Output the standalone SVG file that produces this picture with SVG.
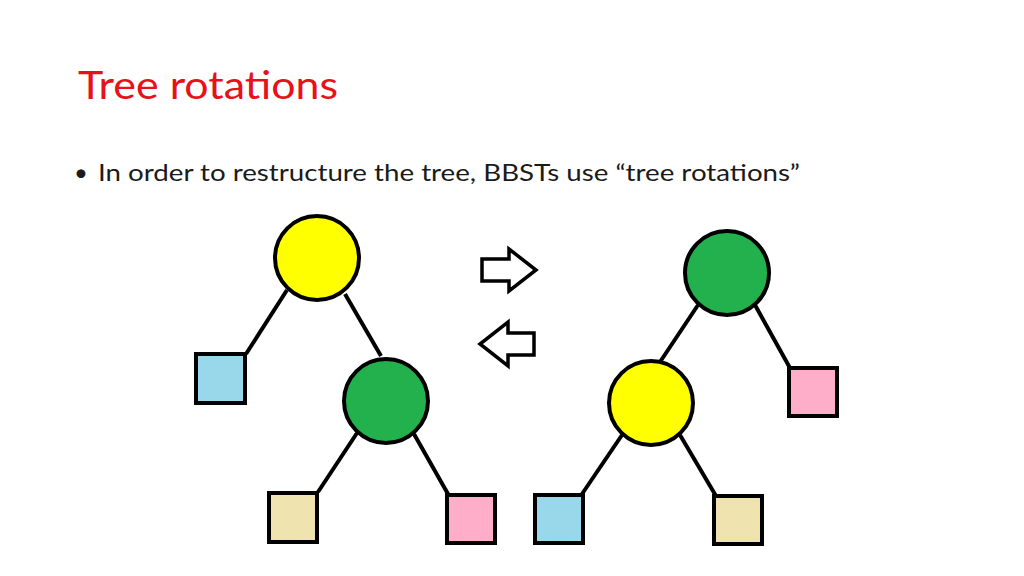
<svg xmlns="http://www.w3.org/2000/svg" width="1024" height="576" viewBox="0 0 1024 576">
<style>
.e{stroke:#000;stroke-width:4;fill:none}
.n{stroke:#000;stroke-width:4}
.a{stroke:#000;stroke-width:3.5;fill:#fff;stroke-linejoin:miter}
text{font-family:Lato,"Open Sans",sans-serif}
</style>
<rect width="1024" height="576" fill="#fff"/>
<text x="78" y="99" font-size="39" fill="#e8101a" textLength="260" lengthAdjust="spacingAndGlyphs">Tree rotations</text>
<text x="74" y="181" font-size="24" fill="#1a1a1a">•</text>
<text x="98" y="181" font-size="24" fill="#1a1a1a" textLength="702" lengthAdjust="spacingAndGlyphs">In order to restructure the tree, BBSTs use “tree rotations”</text>
<g id="connectors">
<line class="e" x1="287" y1="290" x2="246" y2="354"/>
<line class="e" x1="345" y1="294" x2="381" y2="356"/>
<line class="e" x1="357" y1="433" x2="318" y2="492"/>
<line class="e" x1="414" y1="434" x2="448" y2="494"/>
<line class="e" x1="698" y1="305" x2="660" y2="362"/>
<line class="e" x1="755" y1="305" x2="790" y2="368"/>
<line class="e" x1="622" y1="435" x2="582" y2="494"/>
<line class="e" x1="680" y1="435" x2="716" y2="496"/>
</g>
<g id="L-yellow"><circle class="n" cx="317" cy="258" r="42" fill="#ffff00"/></g>
<g id="L-blue"><rect class="n" x="196" y="354" width="49" height="49" fill="#99d8ea"/></g>
<g id="L-green"><circle class="n" cx="386" cy="401" r="42" fill="#22b14c"/></g>
<g id="L-tan"><rect class="n" x="269" y="493" width="48" height="49" fill="#efe4b0"/></g>
<g id="L-pink"><rect class="n" x="447" y="495" width="48" height="48" fill="#ffaec9"/></g>
<g id="R-green"><circle class="n" cx="727" cy="273" r="42" fill="#22b14c"/></g>
<g id="R-pink"><rect class="n" x="789" y="368" width="48" height="48" fill="#ffaec9"/></g>
<g id="R-yellow"><circle class="n" cx="651" cy="403" r="42" fill="#ffff00"/></g>
<g id="R-blue"><rect class="n" x="535" y="495" width="48" height="48" fill="#99d8ea"/></g>
<g id="R-tan"><rect class="n" x="714" y="496" width="48" height="48" fill="#efe4b0"/></g>
<g id="arrow-right"><polygon class="a" points="482,259 509,259 509,249 536,270 509,291 509,281 482,281"/></g>
<g id="arrow-left"><polygon class="a" points="534,333 508,333 508,322 480,344 508,366 508,355 534,355"/></g>
</svg>
